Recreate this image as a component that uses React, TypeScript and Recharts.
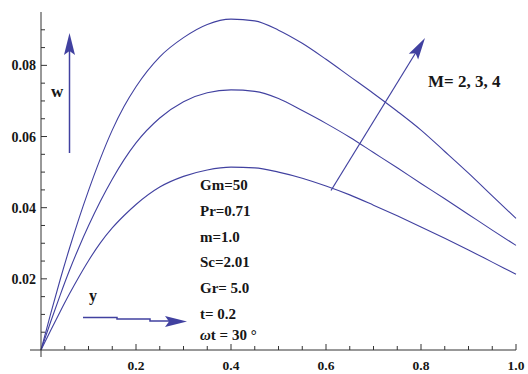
import { Line, LineChart, XAxis, YAxis } from "recharts";

// distance across the channel
const yPos = [
  0, 0.02, 0.04, 0.06, 0.08, 0.1, 0.125, 0.15, 0.175, 0.2, 0.25, 0.3, 0.35, 0.4, 0.45, 0.5, 0.55,
  0.6, 0.65, 0.7, 0.75, 0.8, 0.85, 0.9, 0.95, 1.0,
];

// velocity w for M = 2, 3, 4
const wM4 = [
  0, 0.01, 0.0196, 0.0286, 0.037, 0.0448, 0.0538, 0.0618, 0.0685, 0.074, 0.0824, 0.0878, 0.0915,
  0.093, 0.0925, 0.0899, 0.0862, 0.0817, 0.0769, 0.0721, 0.0671, 0.0618, 0.0558, 0.0497, 0.0433,
  0.037,
];
const wM3 = [
  0, 0.0078, 0.0153, 0.0224, 0.0289, 0.0349, 0.0418, 0.048, 0.0535, 0.0582, 0.0652, 0.0698, 0.0723,
  0.0731, 0.0727, 0.0707, 0.0673, 0.0637, 0.0598, 0.0555, 0.0512, 0.0468, 0.0425, 0.0381, 0.0337,
  0.0294,
];
const wM2 = [
  0, 0.0054, 0.0107, 0.0158, 0.0206, 0.0251, 0.0301, 0.0343, 0.0378, 0.0409, 0.0458, 0.0488, 0.0506,
  0.0514, 0.0512, 0.05, 0.0483, 0.0461, 0.0436, 0.0407, 0.0377, 0.0346, 0.0314, 0.0281, 0.0247,
  0.0213,
];

const xTicks = [
  0.05, 0.1, 0.15, 0.2, 0.25, 0.3, 0.35, 0.4, 0.45, 0.5, 0.55, 0.6, 0.65, 0.7, 0.75, 0.8, 0.85, 0.9,
  0.95, 1.0,
];
const xLabels = [0.2, 0.4, 0.6, 0.8, 1.0];
const yTicks = [
  0.005, 0.01, 0.015, 0.02, 0.025, 0.03, 0.035, 0.04, 0.045, 0.05, 0.055, 0.06, 0.065, 0.07, 0.075,
  0.08, 0.085, 0.09,
];
const yLabels = [0.02, 0.04, 0.06, 0.08];

const params = ["Gm=50", "Pr=0.71", "m=1.0", "Sc=2.01", "Gr= 5.0", "t= 0.2"];

const data = yPos.map((y, i) => ({ y, m2: wM2[i], m3: wM3[i], m4: wM4[i] }));

const curve = "#4141a0";
const ink = "#161616";
const font = "'Liberation Serif', 'DejaVu Serif', serif";

const isLabel = (v: number, list: number[]) => list.some((l) => Math.abs(l - v) < 1e-9);

function XTick({ x, y, payload }: any) {
  const major = isLabel(payload.value, xLabels);
  return (
    <g>
      <line x1={x} y1={y} x2={x} y2={y - (major ? 6 : 4)} stroke="#333" />
      {major && (
        <text x={x} y={y + 20} textAnchor="middle" fontFamily={font} fontWeight="bold" fontSize={13.5} fill={ink}>
          {payload.value.toFixed(1)}
        </text>
      )}
    </g>
  );
}

function YTick({ x, y, payload }: any) {
  const major = isLabel(payload.value, yLabels);
  return (
    <g>
      <line x1={x} y1={y} x2={x + (major ? 6 : 4)} y2={y} stroke="#333" />
      {major && (
        <text x={x - 5} y={y + 5} textAnchor="end" fontFamily={font} fontWeight="bold" fontSize={14} fill={ink}>
          {payload.value.toFixed(2)}
        </text>
      )}
    </g>
  );
}

function arrowHead(x1: number, y1: number, x2: number, y2: number, len = 22, half = 5.5) {
  const d = Math.hypot(x2 - x1, y2 - y1);
  const ux = (x2 - x1) / d;
  const uy = (y2 - y1) / d;
  const bx = x2 - ux * len;
  const by = y2 - uy * len;
  const nx = -uy;
  const ny = ux;
  const mx = x2 - ux * (len - 4);
  const my = y2 - uy * (len - 4);
  return `${x2},${y2} ${bx + nx * half},${by + ny * half} ${mx},${my} ${bx - nx * half},${by - ny * half}`;
}

export default function App() {
  return (
    <div style={{ position: "absolute", left: 0, top: 0, width: 528, height: 374, background: "#fff" }}>
      <LineChart width={528} height={374} data={data} margin={{ top: 12, right: 12, left: 0, bottom: 0 }}>
        <XAxis
          type="number"
          dataKey="y"
          domain={[0, 1]}
          ticks={xTicks}
          tick={<XTick />}
          tickLine={false}
          tickSize={0}
          tickMargin={0}
          height={24}
          axisLine={{ stroke: "#333" }}
          interval={0}
        />
        <YAxis
          type="number"
          domain={[0, 0.095]}
          ticks={yTicks}
          tick={<YTick />}
          tickLine={false}
          tickSize={0}
          tickMargin={0}
          width={41}
          axisLine={{ stroke: "#333" }}
          interval={0}
          allowDataOverflow
        />
        <Line dataKey="m4" type="monotone" stroke={curve} strokeWidth={1.1} dot={false} isAnimationActive={false} />
        <Line dataKey="m3" type="monotone" stroke={curve} strokeWidth={1.1} dot={false} isAnimationActive={false} />
        <Line dataKey="m2" type="monotone" stroke={curve} strokeWidth={1.1} dot={false} isAnimationActive={false} />
      </LineChart>
      <svg
        width={528}
        height={374}
        style={{ position: "absolute", left: 0, top: 0, pointerEvents: "none" }}
        fontFamily={font}
        fontWeight="bold"
        fill={ink}
      >
        {/* axis stubs past the origin */}
        <line x1={30} y1={350} x2={41} y2={350} stroke="#333" />
        <line x1={41} y1={350} x2={41} y2={357} stroke="#333" />

        {/* w arrow */}
        <line x1={69.5} y1={153} x2={69.5} y2={45} stroke={curve} strokeWidth={1.5} />
        <polygon points={arrowHead(69.5, 153, 69.5, 33)} fill={curve} />
        <text x={51} y={97} fontSize={17}>w</text>

        {/* y arrow */}
        <polyline points="83,317.5 117,317.5 117,319 150,319 150,321 172,321" fill="none" stroke={curve} strokeWidth={1.5} />
        <polygon points={arrowHead(150, 321.5, 187, 321.5)} fill={curve} />
        <text x={89} y={301} fontSize={16}>y</text>

        {/* M arrow */}
        <line x1={331} y1={190.5} x2={418} y2={49} stroke={curve} strokeWidth={1.2} />
        <polygon points={arrowHead(331, 190.5, 425, 38)} fill={curve} />
        <text x={428} y={87} fontSize={17}>M= 2, 3, 4</text>

        {params.map((p, i) => (
          <text key={p} x={200} y={190 + i * 25.8} fontSize={15}>
            {p}
          </text>
        ))}
        <text x={200} y={340} fontSize={15}>
          <tspan fontStyle="italic">ω</tspan>t = 30 °
        </text>
      </svg>
    </div>
  );
}
